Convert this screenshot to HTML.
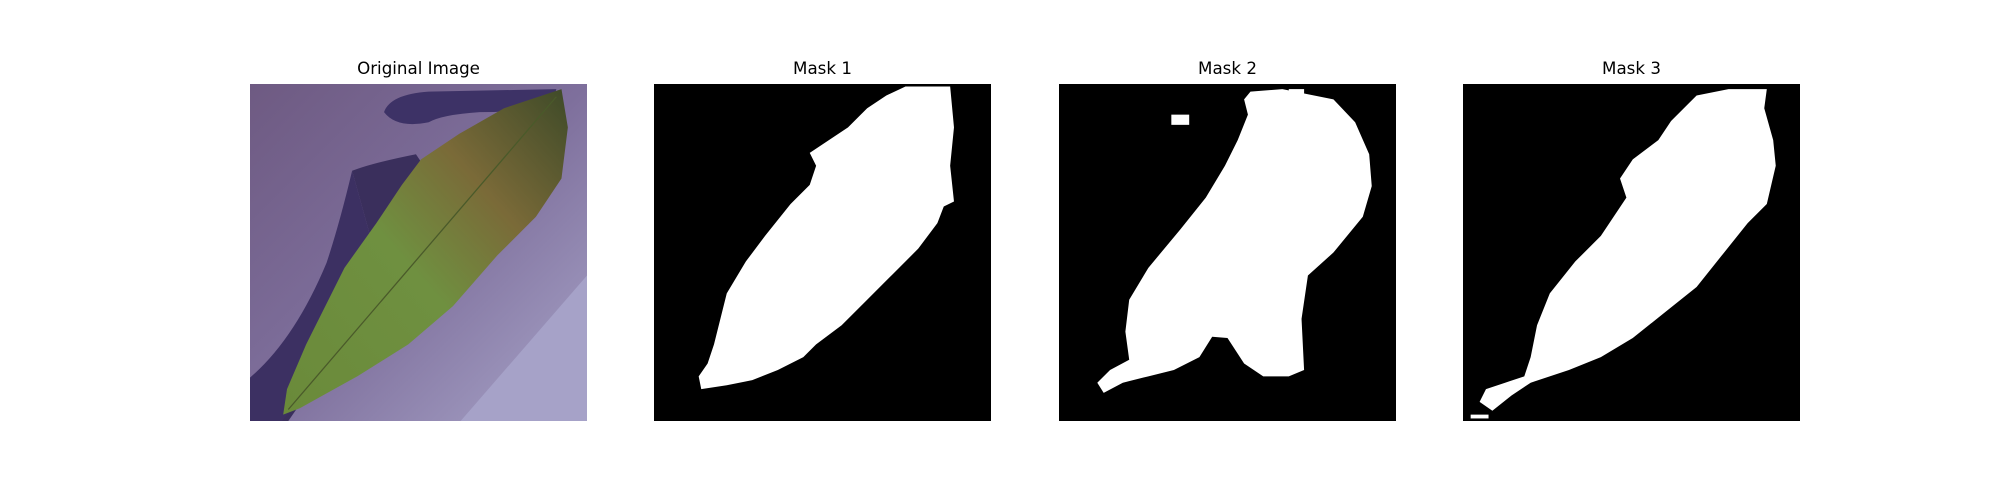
<!DOCTYPE html>
<html><head><meta charset="utf-8"><style>
html,body{margin:0;padding:0;background:#fff;}
#fig{position:relative;width:2000px;height:500px;background:#fff;font-family:"DejaVu Sans","Liberation Sans",sans-serif;}
.ttl{position:absolute;top:58px;width:337px;text-align:center;font-size:16.7px;color:#000;}
svg.pn{position:absolute;top:84px;width:337px;height:337px;}
</style></head><body>
<div id="fig">
<div class="ttl" style="left:250px">Original Image</div>
<div class="ttl" style="left:654px">Mask 1</div>
<div class="ttl" style="left:1059px">Mask 2</div>
<div class="ttl" style="left:1463px">Mask 3</div>

<svg class="pn" style="left:250px" viewBox="0 0 264 264" preserveAspectRatio="none">
<defs>
<linearGradient id="bg" x1="0" y1="0" x2="1" y2="1">
<stop offset="0" stop-color="#6e5a82"/><stop offset="0.5" stop-color="#7e6f9c"/><stop offset="1" stop-color="#a8a4c8"/></linearGradient>
<linearGradient id="lf" x1="0" y1="1" x2="1" y2="0">
<stop offset="0" stop-color="#6a8a3a"/><stop offset="0.45" stop-color="#6f9040"/><stop offset="0.7" stop-color="#7a6a38"/><stop offset="1" stop-color="#3e4a28"/></linearGradient>
</defs>
<rect width="264" height="264" fill="url(#bg)"/>
<path d="M165,264 L264,150 L264,264 Z" fill="#a6a2c8"/>
<path d="M105,22 Q110,8 140,6 L240,4 L235,20 Q200,22 180,22 Q150,24 140,30 Q115,35 105,22 Z" fill="#3d3266"/>
<path d="M80,68 Q95,62 130,55 L140,70 Q120,90 100,130 L80,170 Q60,210 30,240 L0,262 L0,264 L30,264 L50,235 Q70,190 100,140 Z" fill="#3a2f5c"/>
<path d="M60,140 Q70,110 80,68 L100,140 Q70,190 50,235 L25,264 L0,264 L0,230 Q35,200 60,140 Z" fill="#3c3062"/>
<path d="M244,4 L249,34 L244,74 L224,104 L194,134 L159,174 L124,204 L84,229 L39,254 L26,259 L29,239 L44,204 L59,174 L74,144 L99,109 L119,79 L134,59 L164,39 L199,19 Z" fill="url(#lf)"/>
<path d="M30,255 L240,10" stroke="#4a5a2a" stroke-width="1" fill="none"/>
</svg>

<svg class="pn" style="left:654px" viewBox="0 0 264 264" preserveAspectRatio="none">
<rect width="264" height="264" fill="#000"/>
<path d="M197,2 L232,2 L235,34 L232,64 L235,92 L227,96 L222,109 L207,129 L187,149 L167,169 L147,189 L127,204 L117,214 L97,224 L77,232 L57,236 L37,239 L35,229 L42,219 L47,204 L52,184 L57,164 L72,139 L87,119 L107,94 L122,79 L127,64 L122,54 L137,44 L152,34 L167,19 L182,9 Z" fill="#fff"/>
</svg>

<svg class="pn" style="left:1059px" viewBox="0 0 264 264" preserveAspectRatio="none">
<rect width="264" height="264" fill="#000"/>
<path d="M150,6 L175,4 L215,12 L232,30 L243,55 L245,80 L238,104 L215,132 L195,150 L190,184 L192,224 L180,229 L160,229 L145,219 L132,199 L120,198 L110,214 L90,224 L70,229 L50,234 L35,242 L30,234 L40,224 L55,216 L52,194 L55,169 L70,144 L95,114 L115,89 L130,64 L140,44 L148,24 L145,12 Z" fill="#fff"/>
<rect x="88" y="24" width="14" height="8" fill="#fff"/>
<rect x="180" y="4" width="12" height="6" fill="#fff"/>
</svg>

<svg class="pn" style="left:1463px" viewBox="0 0 264 264" preserveAspectRatio="none">
<rect width="264" height="264" fill="#000"/>
<path d="M208,4 L238,4 L236,19 L243,44 L245,64 L238,94 L223,109 L203,134 L183,159 L158,179 L133,199 L108,214 L83,224 L53,234 L38,244 L23,256 L13,249 L18,239 L33,234 L48,229 L53,214 L58,189 L68,164 L88,139 L108,119 L128,89 L123,74 L133,59 L153,44 L163,29 L183,9 Z" fill="#fff"/>
<rect x="6" y="259" width="14" height="3" fill="#fff"/>
</svg>
</div>
</body></html>
